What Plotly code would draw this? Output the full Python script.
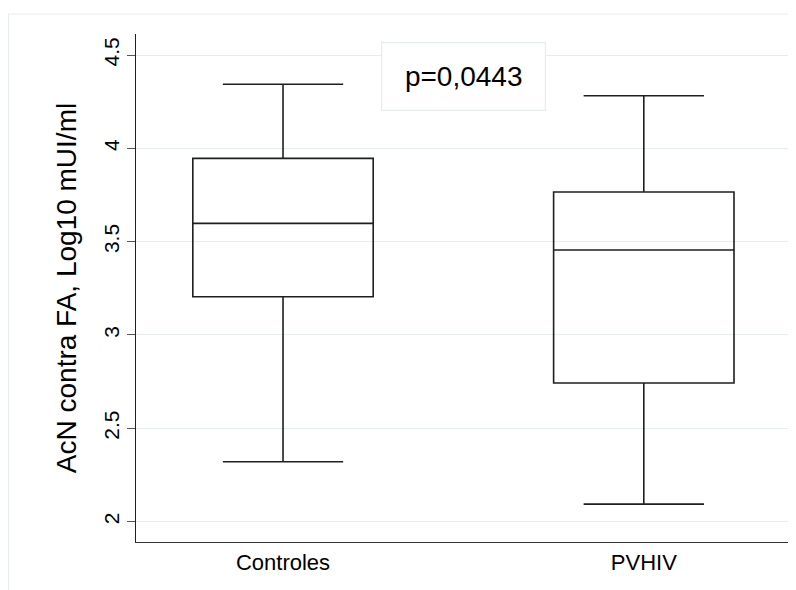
import plotly.graph_objects as go

categories = ["Controles", "PVHIV"]
lower_whisker = [2.321, 2.094]
q1_values = [3.205, 2.743]
median_values = [3.598, 3.455]
q3_values = [3.946, 3.766]
upper_whisker = [4.343, 4.282]
y_tick_values = [2, 2.5, 3, 3.5, 4, 4.5]
y_tick_labels = ["2", "2.5", "3", "3.5", "4", "4.5"]
p_text = "p=0,0443"
y_title = "AcN contra FA, Log10 mUI/ml"

FONT = "Liberation Sans, Arial, Helvetica, sans-serif"
GRID = "#E5EDF0"
LINE = "#1f1f1f"

fig = go.Figure()
for i, cat in enumerate(categories):
    fig.add_trace(go.Box(
        x=[i],
        q1=[q1_values[i]], median=[median_values[i]], q3=[q3_values[i]],
        lowerfence=[lower_whisker[i]], upperfence=[upper_whisker[i]],
        width=0.5, whiskerwidth=0.667,
        fillcolor="rgba(255,255,255,0)",
        line=dict(color=LINE, width=1.6),
        boxpoints=False, showlegend=False, hoverinfo="skip",
        name=cat,
    ))

fig.update_layout(
    width=788, height=582,
    margin=dict(l=128, r=5, t=26, b=48, autoexpand=False),
    paper_bgcolor="white", plot_bgcolor="white",
    font=dict(family=FONT, color="black"),
    xaxis=dict(
        range=[-0.4075, 1.408],
        tickvals=[0, 1], ticktext=categories,
        showgrid=False, zeroline=False, automargin=False,
        showline=True, linecolor="#333333", linewidth=1.2,
        ticks="", tickfont=dict(size=22, family=FONT, color="black"),
    ),
    yaxis=dict(
        range=[1.891, 4.6125],
        tickvals=y_tick_values, ticktext=y_tick_labels,
        tickangle=-90, automargin=False,
        showgrid=True, gridcolor=GRID, gridwidth=1.2,
        zeroline=False,
        showline=True, linecolor="#1f1f1f", linewidth=1.2,
        ticks="outside", ticklen=8, tickcolor="#555555", tickwidth=1.2,
        tickfont=dict(size=21, family=FONT, color="black"),
        title=dict(text=y_title, font=dict(size=28, family=FONT, color="black"), standoff=14),
    ),
    shapes=[
        dict(type="rect", xref="paper", yref="paper",
             x0=-0.1948, x1=1.05, y0=-0.2, y1=1.0394,
             line=dict(color=GRID, width=1.2), fillcolor="rgba(0,0,0,0)", layer="below"),
    ],
    annotations=[
        dict(text=p_text, xref="paper", yref="paper", x=0.5, y=0.917,
             xanchor="center", yanchor="middle", showarrow=False,
             width=163, height=67, bgcolor="white",
             bordercolor=GRID, borderwidth=1.2, borderpad=0,
             font=dict(size=28, family=FONT, color="black")),
    ],
)

fig.write_html("out.html")
